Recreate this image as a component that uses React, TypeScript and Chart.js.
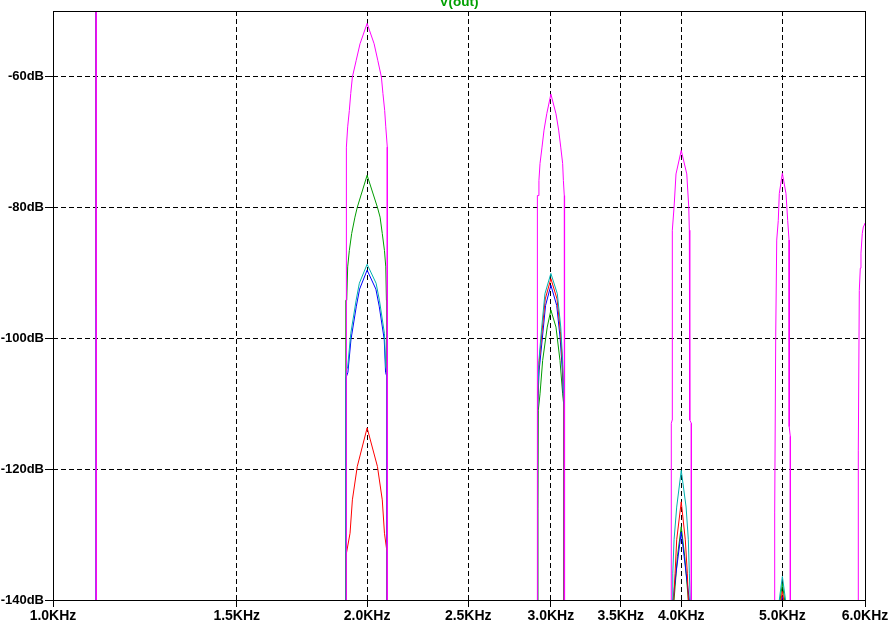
import React, { useEffect, useRef } from 'react';
import { Chart, registerables } from 'chart.js';

Chart.register(...registerables);

// Axis ticks and title
const xTickKHz = [1.0, 1.5, 2.0, 2.5, 3.0, 3.5, 4.0, 5.0, 6.0];
const yTickDB = [-140, -120, -100, -80, -60];
const titleText = 'V(out)';

// Step 5 (magenta)
const magentaKHz = [
  1.0, 1.05, 1.1, 1.1,
  1.909, 1.909, 1.912, 1.916, 1.923, 1.929, 1.936, 1.952, 1.969, 2.0, 2.031, 2.048, 2.064, 2.071, 2.079, 2.084, 2.091, 2.091,
  2.912, 2.912, 2.916, 2.922, 2.929, 2.942, 2.955, 2.973, 3.0, 3.034, 3.052, 3.066, 3.079, 3.084, 3.09, 3.092, 3.092,
  3.912, 3.913, 3.921, 3.922, 3.937, 3.954, 4.0, 4.049, 4.067, 4.072, 4.076, 4.09, 4.09,
  4.913, 4.916, 4.927, 4.938, 4.955, 4.966, 5.0, 5.04, 5.059, 5.074, 5.076, 5.088, 5.089,
  5.911, 5.912, 5.925, 5.938, 5.947, 5.964, 5.978, 5.991, 6.0,
];
const magentaDB = [
  -20, -25, -35, -300,
  -300, -70.8, -70.8, -67.7, -65.2, -62.6, -60.1, -57.6, -55.0, -51.9, -55.0, -57.6, -60.1, -62.6, -65.2, -67.7, -70.8, -300,
  -300, -78.2, -78.2, -75.9, -73.3, -70.8, -68.2, -65.7, -62.7, -65.7, -68.2, -70.8, -73.3, -75.9, -78.2, -78.5, -300,
  -300, -113, -112.5, -83.5, -80.0, -74.9, -71.3, -74.9, -80.0, -83.5, -112.5, -113, -300,
  -300, -126.7, -99.8, -85.0, -82.0, -77.9, -74.8, -77.9, -82.0, -85.0, -113.5, -115, -300,
  -300, -117.1, -92.7, -89.3, -87.0, -84.0, -83.0, -82.7, -82.4,
];

// Step 4 (cyan)
const cyanKHz = [
  1.0, 1.05, 1.1, 1.1, 1.0985, 1.0985,
  1.909, 1.909, 1.916, 1.929, 1.952, 1.966, 2.0, 2.04, 2.055, 2.078, 2.084, 2.091, 2.091,
  2.913, 2.914, 2.922, 2.94, 2.961, 3.0, 3.043, 3.066, 3.079, 3.088, 3.089,
  3.912, 3.92, 3.926, 3.937, 3.96, 4.0, 4.043, 4.063, 4.072, 4.08, 4.088,
  4.912, 4.966, 5.0, 5.035, 5.088,
  6.0,
];
const cyanDB = [
  -20, -25, -35, -95.1, -95.1, -300,
  -300, -105.0, -104.4, -99.3, -94.2, -91.6, -88.7, -91.6, -94.2, -99.3, -104.4, -105.0, -300,
  -300, -109.5, -103.4, -98.3, -93.2, -90.1, -93.2, -98.3, -103.4, -109.5, -300,
  -300, -140, -135.9, -130.8, -125.8, -120.2, -125.8, -130.8, -135.9, -140, -300,
  -300, -140, -136.4, -140, -300,
  -300,
];

// Step 3 (red)
const redKHz = [
  1.0, 1.05, 1.1, 1.1,
  1.909, 1.91, 1.926, 1.936, 1.957, 2.0, 2.046, 2.068, 2.078, 2.091, 2.091,
  2.913, 2.913, 2.914, 2.922, 2.942, 2.963, 3.0, 3.041, 3.064, 3.078, 3.088, 3.088,
  3.912, 3.933, 3.946, 3.96, 4.0, 4.036, 4.054, 4.063, 4.088,
  4.912, 4.985, 5.0, 5.015, 5.088,
  6.0,
];
const redDB = [
  -20, -25, -35, -300,
  -300, -133, -129.8, -124.7, -119.6, -113.7, -119.6, -124.7, -129.8, -133, -300,
  -300, -123, -110, -104, -99, -94, -90.9, -94, -99, -104, -110, -300,
  -300, -140, -135.9, -130.8, -125.0, -130.8, -135.9, -140, -300,
  -300, -140, -138.7, -140, -300,
  -300,
];

// Step 2 (blue)
const blueKHz = [
  1.0, 1.05, 1.1, 1.1,
  1.909, 1.909, 1.91, 1.917, 1.93, 1.953, 1.967, 2.0, 2.039, 2.054, 2.077, 2.083, 2.09, 2.09,
  2.913, 2.913, 2.923, 2.944, 2.965, 3.0, 3.039, 3.062, 3.077, 3.088, 3.088,
  3.912, 3.928, 3.954, 4.0, 4.043, 4.072, 4.088,
  4.912, 4.99, 5.0, 5.01, 5.088,
  6.0,
];
const blueDB = [
  -20, -25, -35, -300,
  -300, -125, -106, -105.2, -100.2, -95.1, -92.5, -89.6, -92.5, -95.1, -100.2, -105.2, -106, -300,
  -300, -111, -105, -100, -95, -91.9, -95, -100, -105, -111, -300,
  -300, -140, -135.9, -129.6, -135.9, -140, -300,
  -300, -140, -139.5, -140, -300,
  -300,
];

// Step 1 (green)
const greenKHz = [
  1.0, 1.05, 1.1, 1.1,
  1.908, 1.908, 1.912, 1.916, 1.923, 1.933, 1.947, 1.957, 2.0, 2.046, 2.058, 2.068, 2.078, 2.084, 2.087, 2.09, 2.09,
  2.915, 2.915, 2.918, 2.929, 2.946, 2.976, 3.0, 3.034, 3.061, 3.079, 3.09, 3.09,
  3.912, 3.937, 3.966, 4.0, 4.031, 4.063, 4.088,
  4.912, 4.975, 5.0, 5.025, 5.088,
  6.0,
];
const greenDB = [
  -20, -25, -35, -300,
  -300, -94.2, -94.2, -89.1, -86.6, -84.0, -81.5, -80.0, -75.1, -80.0, -81.5, -84.0, -86.6, -89.1, -94.2, -94.2, -300,
  -300, -126, -111, -108.5, -103.4, -98.3, -95.7, -98.3, -103.4, -108.5, -111, -300,
  -300, -140, -133.4, -128.8, -133.4, -140, -300,
  -300, -140, -137.5, -140, -300,
  -300,
];

const zip = (xs: number[], ys: number[]) => xs.map((x, i) => ({ x, y: ys[i] }));

const FAMILY = '"Liberation Sans", Arial, sans-serif';
const X_FONT = { family: FAMILY, size: 14, weight: 'bold' as const, lineHeight: 1 };
const Y_FONT = { family: FAMILY, size: 13, weight: 'bold' as const, lineHeight: 1 };
const T_FONT = { family: FAMILY, size: 13.5, weight: 'bold' as const, lineHeight: 1 };

const framePlugin = {
  id: 'frame',
  afterDraw(chart: any) {
    const { ctx, chartArea } = chart;
    const l = Math.round(chartArea.left) + 0.5;
    const t = Math.round(chartArea.top) + 0.5;
    const r = Math.round(chartArea.right) + 0.5;
    const b = Math.round(chartArea.bottom) + 0.5;
    ctx.save();
    ctx.strokeStyle = '#000';
    ctx.lineWidth = 1;
    ctx.setLineDash([]);
    ctx.strokeRect(l, t, r - l, b - t);
    ctx.restore();
  },
};

export default function App() {
  const ref = useRef<HTMLCanvasElement | null>(null);
  useEffect(() => {
    if (!ref.current) return;
    const mk = (label: string, xs: number[], ys: number[], color: string) => ({
      label,
      data: zip(xs, ys),
      borderColor: color,
      backgroundColor: color,
      borderWidth: 1,
      pointRadius: 0,
      tension: 0,
      fill: false,
      clip: 0,
    });
    const chart = new Chart(ref.current, {
      type: 'line',
      data: {
        datasets: [
          mk('step 5', magentaKHz, magentaDB, '#ff00ff'),
          mk('step 4', cyanKHz, cyanDB, '#00b0b0'),
          mk('step 3', redKHz, redDB, '#ff0000'),
          mk('step 2', blueKHz, blueDB, '#0000ff'),
          mk('step 1', greenKHz, greenDB, '#009c00'),
        ],
      },
      options: {
        responsive: false,
        maintainAspectRatio: false,
        animation: false,
        devicePixelRatio: 1,
        layout: { padding: { top: 0, right: 31, bottom: 0, left: 0 } },
        plugins: {
          legend: { display: false },
          tooltip: { enabled: false },
          title: {
            display: true,
            text: titleText,
            color: '#00a000',
            font: T_FONT,
            fullSize: false,
            align: 'center',
            padding: { top: -4.5, bottom: 2 },
          },
        },
        scales: {
          x: {
            type: 'logarithmic',
            min: 1,
            max: 6,
            afterBuildTicks: (s: any) => {
              s.ticks = xTickKHz.map((v) => ({ value: v }));
            },
            afterFit: (s: any) => {
              s.height = 25;
            },
            ticks: {
              autoSkip: false,
              maxRotation: 0,
              minRotation: 0,
              padding: 2,
              color: '#000',
              font: X_FONT,
              callback: (v: any) => Number(v).toFixed(1) + 'KHz',
            },
            grid: {
              color: '#000',
              lineWidth: 1,
              drawTicks: true,
              tickLength: 7,
              tickColor: '#000',
              tickWidth: 1,
              tickBorderDash: [],
            },
            border: { display: false, dash: [5, 3] },
          },
          y: {
            type: 'linear',
            min: -140,
            max: -50,
            afterBuildTicks: (s: any) => {
              s.ticks = yTickDB.map((v) => ({ value: v }));
            },
            afterFit: (s: any) => {
              s.width = 53;
            },
            ticks: {
              padding: 1,
              color: '#000',
              font: Y_FONT,
              callback: (v: any) => v + 'dB',
            },
            grid: {
              color: '#000',
              lineWidth: 1,
              drawTicks: true,
              tickLength: 8,
              tickColor: '#000',
              tickWidth: 1,
              tickBorderDash: [],
            },
            border: { display: false, dash: [5, 3] },
          },
        },
      },
      plugins: [framePlugin],
    } as any);
    return () => chart.destroy();
  }, []);
  return (
    <div style={{ position: 'absolute', left: 0, top: 0, width: 896, height: 625, background: '#fff' }}>
      <canvas ref={ref} width={896} height={625} style={{ display: 'block', width: 896, height: 625 }} />
    </div>
  );
}
